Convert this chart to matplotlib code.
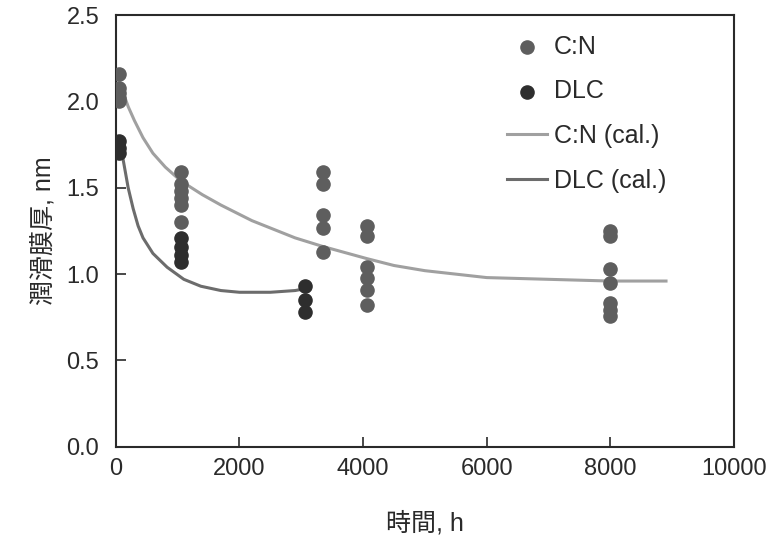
import matplotlib.pyplot as plt

plt.rcParams['font.family'] = ['Liberation Sans', 'Noto Sans CJK JP']

# measured points
cn_x = [50, 50, 50, 50, 50,
        1050, 1050, 1050, 1050, 1050, 1050,
        3350, 3350, 3350, 3350, 3350,
        4060, 4060, 4060, 4060, 4060, 4060,
        8000, 8000, 8000, 8000, 8000, 8000, 8000]
cn_y = [2.16, 2.08, 2.05, 2.02, 2.00,
        1.59, 1.52, 1.48, 1.44, 1.40, 1.30,
        1.59, 1.52, 1.34, 1.27, 1.13,
        1.28, 1.22, 1.04, 0.98, 0.91, 0.82,
        1.25, 1.22, 1.03, 0.95, 0.83, 0.79, 0.76]

dlc_x = [50, 50, 50,
         1050, 1050, 1050, 1050,
         3060, 3060, 3060]
dlc_y = [1.77, 1.73, 1.70,
         1.21, 1.16, 1.11, 1.07,
         0.93, 0.85, 0.78]

# calculated curves
cn_cal_x = [100, 200, 300, 440, 600, 800, 1050, 1400, 1700, 2200, 2900, 3350,
            4060, 4500, 5000, 5500, 6000, 7000, 8000, 8900]
cn_cal_y = [2.07, 1.97, 1.89, 1.79, 1.70, 1.62, 1.54, 1.46, 1.40, 1.31, 1.21, 1.16,
            1.09, 1.05, 1.02, 1.00, 0.98, 0.97, 0.96, 0.96]
dlc_cal_x = [100, 200, 280, 360, 440, 600, 830, 1100, 1375, 1700, 2000, 2500,
             2900, 3050]
dlc_cal_y = [1.70, 1.50, 1.38, 1.28, 1.21, 1.12, 1.04, 0.97, 0.93, 0.905, 0.895,
             0.895, 0.905, 0.915]

fig = plt.figure(figsize=(7.67, 5.39), dpi=100)
ax = fig.add_axes([0.151, 0.171, 0.806, 0.801])

ax.plot(cn_cal_x, cn_cal_y, color='#a0a0a0', lw=2.2, label='C:N (cal.)', zorder=2)
ax.plot(dlc_cal_x, dlc_cal_y, color='#6c6c6c', lw=2.2, label='DLC (cal.)', zorder=2)
ax.scatter(cn_x, cn_y, s=90, color='#5e5e5e', label='C:N', zorder=3)
ax.scatter(dlc_x, dlc_y, s=90, color='#2e2e2e', label='DLC', zorder=3)

ax.set_xlim(0, 10000)
ax.set_ylim(0, 2.5)
ax.set_xticks([0, 2000, 4000, 6000, 8000, 10000])
ax.set_yticks([0.0, 0.5, 1.0, 1.5, 2.0, 2.5])
ax.set_yticklabels(['0.0', '0.5', '1.0', '1.5', '2.0', '2.5'])
ax.tick_params(direction='in', length=7, width=1.2, labelsize=17,
               colors='#2a2a2a')
ax.tick_params(axis='x', pad=8)
ax.tick_params(axis='y', pad=12)
for s in ax.spines.values():
    s.set_color('#2a2a2a')
    s.set_linewidth(1.5)

ax.set_xlabel('時間, h', fontsize=18, color='#2a2a2a', labelpad=22)
ax.set_ylabel('潤滑膜厚, nm', fontsize=18, color='#2a2a2a', labelpad=8)

handles, labels = ax.get_legend_handles_labels()
order = [2, 3, 0, 1]
ax.legend([handles[i] for i in order], [labels[i] for i in order],
          loc='upper left', bbox_to_anchor=(0.632, 0.955), frameon=False,
          borderpad=0, borderaxespad=0,
          fontsize=18, labelspacing=0.83, handlelength=1.6, handletextpad=0.3,
          labelcolor='#2a2a2a')

fig.savefig('out.png', dpi=100)
